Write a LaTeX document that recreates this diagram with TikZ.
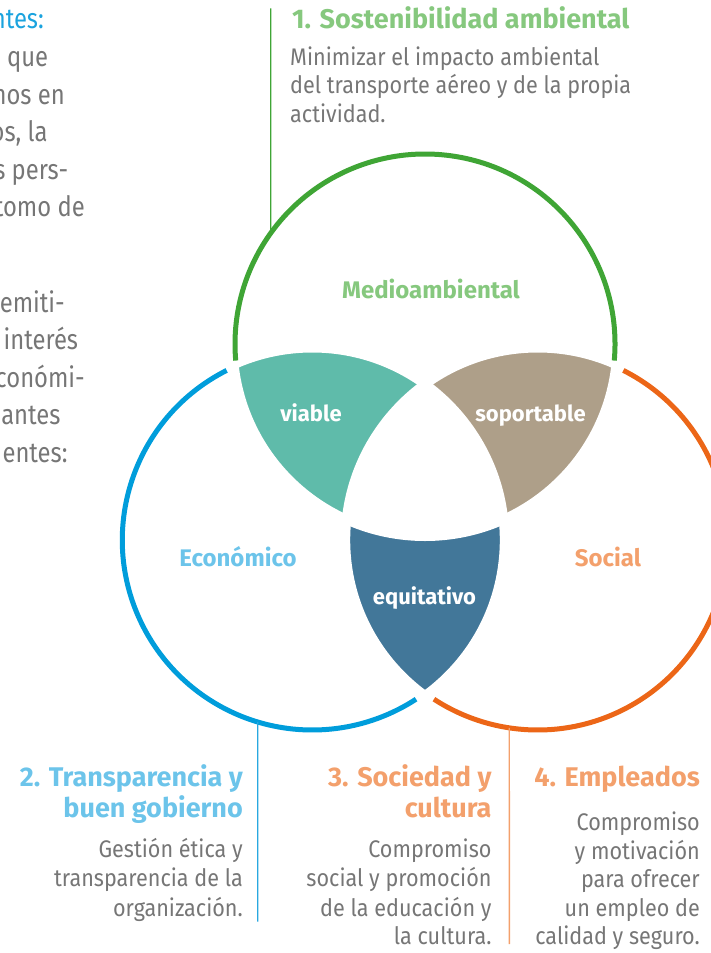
\documentclass[tikz,border=0pt]{standalone}
\usepackage{fontspec}
\setmainfont{Fira Sans}
\newfontfamily\topfont{Fira Sans}[FakeStretch=0.85]
\newfontfamily\bodyfont{Fira Sans}[FakeStretch=0.9]
\usetikzlibrary{calc}
\definecolor{cgreen}{HTML}{3FA535}
\definecolor{lgreen}{HTML}{86C87E}
\definecolor{cblue}{HTML}{009DDB}
\definecolor{lblue}{HTML}{6CC4EA}
\definecolor{lineblue}{HTML}{29A8E0}
\definecolor{corange}{HTML}{EC6617}
\definecolor{lorange}{HTML}{F3A06C}
\definecolor{cviable}{HTML}{5FBBAA}
\definecolor{csopor}{HTML}{AE9F89}
\definecolor{cequit}{HTML}{427799}
\definecolor{ctext}{HTML}{767676}
\definecolor{ctop}{HTML}{1BA3DE}
\begin{document}
\begin{tikzpicture}[x=1pt,y=1pt,
  body/.style={text=ctext, font=\bodyfont\fontsize{24}{29}\selectfont, inner sep=0pt},
  topt/.style={text=ctext, font=\topfont\fontsize{28}{37}\selectfont, inner sep=0pt, anchor=base east},
  head/.style={font=\bfseries\fontsize{27}{31}\selectfont, inner sep=0pt},
  lab/.style={font=\bfseries\fontsize{24}{28}\selectfont, inner sep=0pt, anchor=base},
  ilab/.style={font=\bfseries\fontsize{22}{26}\selectfont, inner sep=0pt, text=white, anchor=base},
  ring/.style={line width=5pt},
  gapline/.style={white, line width=5pt},
  innergap/.style={white, line width=14pt},
  leader/.style={line width=1.4pt}]
\useasboundingbox (0,0) rectangle (711,-953);
\clip (0,0) rectangle (711,-953);
\def\R{190}
\coordinate (G) at (425,-344);
\coordinate (B) at (312.3,-540);
\coordinate (O) at (537.7,-540);
% filled regions
\begin{scope}\clip (B) circle (\R); \fill[cviable] (G) circle (\R); \end{scope}
\begin{scope}\clip (O) circle (\R); \fill[csopor] (G) circle (\R); \end{scope}
\begin{scope}\clip (B) circle (\R); \fill[cequit] (O) circle (\R); \end{scope}
\begin{scope}\clip (B) circle (\R); \clip (O) circle (\R); \fill[white] (G) circle (\R); \end{scope}
% white gaps
\draw[gapline] (G) circle (\R) (B) circle (\R) (O) circle (\R);
\begin{scope}\clip (B) circle (\R); \clip (O) circle (\R); \draw[innergap] (G) circle (\R); \end{scope}
\begin{scope}\clip (G) circle (\R); \clip (O) circle (\R); \draw[innergap] (B) circle (\R); \end{scope}
\begin{scope}\clip (G) circle (\R); \clip (B) circle (\R); \draw[innergap] (O) circle (\R); \end{scope}
% rings
\draw[ring, cgreen] ($(G)+(-5:\R)$) arc[start angle=-5, end angle=185, radius=\R];
\draw[ring, cblue] ($(B)+(116.8:\R)$) arc[start angle=116.8, end angle=303.1, radius=\R];
\draw[ring, corange] ($(O)+(63.2:\R)$) arc[start angle=63.2, end angle=-123.1, radius=\R];
% leader lines
\coordinate (gtop) at (270.7,-8.3);
\coordinate (gring) at ($(G)+(144.3:\R)$);
\coordinate (bring) at ($(B)+(253.3:\R)$);
\coordinate (bbot) at (257.7,-921.7);
\coordinate (oring) at ($(O)+(261.4:\R)$);
\coordinate (obot) at (509.3,-944);
\draw[leader, cgreen] (gtop) -- (gring);
\draw[leader, lineblue] (bring) -- (bbot);
\draw[leader, lorange] (oring) -- (obot);
% region labels
\node[lab, text=lgreen] (lmed) at (431,-298.5) {Medioambiental};
\node[lab, text=lblue] (leco) at (238,-566.5) {Económico};
\node[lab, text=lorange] (lsoc) at (608,-566.5) {Social};
\node[ilab] (lvia) at (311,-421) {viable};
\node[ilab] (lsop) at (530.5,-421) {soportable};
\node[ilab] (lequ) at (424.5,-604.3) {equitativo};
% block 1
\node[head, text=lgreen, anchor=base west] (h1) at (292,-28.3) {1. Sostenibilidad ambiental};
\node[body, anchor=base west] (b1a) at (290,-65) {Minimizar el impacto ambiental};
\node[body, anchor=base west] (b1b) at (290,-93.7) {del transporte aéreo y de la propia};
\node[body, anchor=base west] (b1c) at (290,-122.4) {actividad.};
% block 2
\node[head, text=lblue, anchor=base east] (h2a) at (243,-786.7) {2. Transparencia y};
\node[head, text=lblue, anchor=base east] (h2b) at (243,-817.3) {buen gobierno};
\node[body, anchor=base east] (b2a) at (243,-857.3) {Gestión ética y};
\node[body, anchor=base east] (b2b) at (243,-886.7) {transparencia de la};
\node[body, anchor=base east] (b2c) at (243,-916) {organización.};
% block 3
\node[head, text=lorange, anchor=base east] (h3a) at (491.7,-786.7) {3. Sociedad y};
\node[head, text=lorange, anchor=base east] (h3b) at (491.7,-817.3) {cultura};
\node[body, anchor=base east] (b3a) at (491.7,-857.3) {Compromiso};
\node[body, anchor=base east] (b3b) at (491.7,-886.7) {social y promoción};
\node[body, anchor=base east] (b3c) at (491.7,-916) {de la educación y};
\node[body, anchor=base east] (b3d) at (491.7,-944.5) {la cultura.};
% block 4
\node[head, text=lorange, anchor=base east] (h4) at (700,-786.7) {4. Empleados};
\node[body, anchor=base east] (b4a) at (700,-830.7) {Compromiso};
\node[body, anchor=base east] (b4b) at (700,-859.3) {y motivación};
\node[body, anchor=base east] (b4c) at (700,-887.7) {para ofrecer};
\node[body, anchor=base east] (b4d) at (700,-916) {un empleo de};
\node[body, anchor=base east] (b4e) at (700,-944.5) {calidad y seguro.};
% cut-off text at top left
\node[topt, text=ctop] (t0) at (44,-28.3) {ntes:};
\node[topt] (t1) at (48.3,-66.7) {s que};
\node[topt] (t2) at (65,-104.5) {nos en};
\node[topt] (t3) at (47.7,-141.5) {os, la};
\node[topt] (t4) at (68.3,-179) {s pers-};
\node[topt] (t5) at (85,-216.5) {tomo de};
\node[topt] (t6) at (65,-312) {emiti-};
\node[topt] (t7) at (78.3,-349.5) {interés};
\node[topt] (t8) at (85,-387) {conómi-};
\node[topt] (t9) at (60.7,-424.5) {antes};
\node[topt] (t10) at (67.7,-462) {entes:};
\end{tikzpicture}
\end{document}
